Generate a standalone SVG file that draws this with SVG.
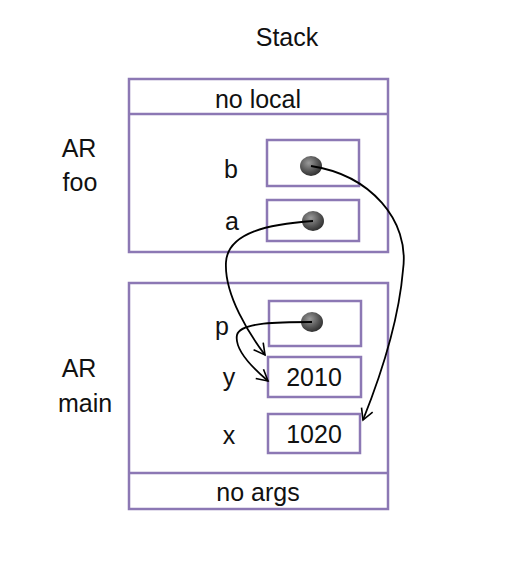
<svg xmlns="http://www.w3.org/2000/svg" width="517" height="572" viewBox="0 0 517 572">
<defs>
<style>
.box{fill:#fff;stroke:#8c78b4;stroke-width:2.5}
.t{font-family:"Liberation Sans",Arial,sans-serif;font-size:25px;fill:#111}
.m{text-anchor:middle}
.c{fill:none;stroke:#000;stroke-width:1.8}
</style>
<radialGradient id="g" cx="0.4" cy="0.35" r="0.7">
<stop offset="0" stop-color="#9a9a9a"/>
<stop offset="0.6" stop-color="#555"/>
<stop offset="1" stop-color="#2a2a2a"/>
</radialGradient>
<marker id="ah" markerWidth="14" markerHeight="14" refX="12" refY="7" orient="auto" markerUnits="userSpaceOnUse">
<path d="M1,1 L12,7 L1,13" fill="none" stroke="#000" stroke-width="1.6"/>
</marker>
</defs>
<rect width="517" height="572" fill="#fff"/>
<text class="t m" x="287" y="46">Stack</text>
<g id="ar-foo">
<rect class="box" x="129" y="79" width="259" height="173"/>
<line class="box" x1="129" y1="114" x2="388" y2="114"/>
<text class="t m" x="258" y="108">no local</text>
<text class="t m" x="79" y="157">AR</text>
<text class="t m" x="80" y="191">foo</text>
</g>
<g id="b">
<text class="t m" x="231" y="178">b</text>
<rect class="box" x="267" y="140" width="92" height="46"/>
<ellipse cx="311" cy="166" rx="11" ry="10" fill="url(#g)"/>
</g>
<g id="a">
<text class="t m" x="232" y="230">a</text>
<rect class="box" x="267" y="200" width="92" height="41"/>
<ellipse cx="313" cy="221" rx="11" ry="10" fill="url(#g)"/>
</g>
<g id="ar-main">
<rect class="box" x="129" y="283" width="259" height="226"/>
<line class="box" x1="129" y1="473" x2="388" y2="473"/>
<text class="t m" x="258" y="501">no args</text>
<text class="t m" x="79" y="377">AR</text>
<text class="t m" x="85" y="412">main</text>
</g>
<g id="p">
<text class="t m" x="222" y="335">p</text>
<rect class="box" x="269" y="301" width="92" height="45"/>
<ellipse cx="312" cy="322" rx="11" ry="10" fill="url(#g)"/>
</g>
<g id="y">
<text class="t m" x="229" y="386">y</text>
<rect class="box" x="268" y="357" width="93" height="40"/>
<text class="t m" x="314" y="386">2010</text>
</g>
<g id="x">
<text class="t m" x="229" y="444">x</text>
<rect class="box" x="268" y="414" width="92" height="39"/>
<text class="t m" x="314" y="443">1020</text>
</g>
<g id="connectors">
<path class="c" d="M311,166 C370,175 410,220 403,270 C398,330 375,390 363,420" marker-end="url(#ah)"/>
<path class="c" d="M313,221 C270,224 228,232 226,262 C224,295 250,335 265,355" marker-end="url(#ah)"/>
<path class="c" d="M312,322 C280,322 240,322 237,335 C234,350 255,370 268,381" marker-end="url(#ah)"/>
</g>
</svg>
